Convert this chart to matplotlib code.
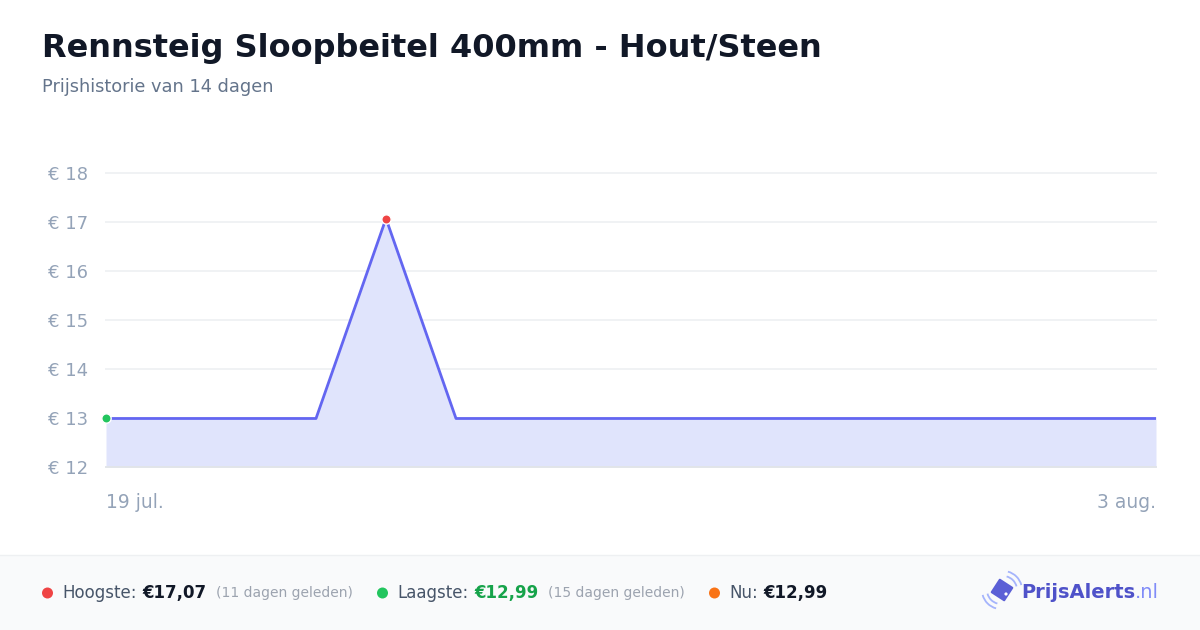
import matplotlib
matplotlib.use("Agg")
import matplotlib.pyplot as plt
from matplotlib.patches import Rectangle, RegularPolygon, Arc, Circle
import numpy as np
import pandas as pd

plt.rcParams['font.family'] = ['DejaVu Sans']

# data
title = "Rennsteig Sloopbeitel 400mm - Hout/Steen"
subtitle = "Prijshistorie van 14 dagen"
dates = ['2025-07-19', '2025-07-20', '2025-07-21', '2025-07-22', '2025-07-23',
         '2025-07-24', '2025-07-25', '2025-07-26', '2025-07-27', '2025-07-28',
         '2025-07-29', '2025-07-30', '2025-07-31', '2025-08-01', '2025-08-02',
         '2025-08-03']
prices = [12.99, 12.99, 12.99, 12.99, 17.07, 12.99, 12.99, 12.99, 12.99, 12.99,
          12.99, 12.99, 12.99, 12.99, 12.99, 12.99]
y_ticks = [12, 13, 14, 15, 16, 17, 18]
x_labels = ["19 jul.", "3 aug."]
stats = [
    ("Hoogste:", "€17,07", "(11 dagen geleden)", "#ef4444", "#111827"),
    ("Laagste:", "€12,99", "(15 dagen geleden)", "#22c55e", "#16a34a"),
    ("Nu:", "€12,99", None, "#f97316", "#111827"),
]

x = pd.to_datetime(dates)

W, H = 1200, 630
fig = plt.figure(figsize=(W / 100, H / 100), dpi=100)
fig.patch.set_facecolor("white")

# header
fig.text(42 / W, 1 - 48 / H, title, fontsize=23, fontweight="bold",
         color="#111827", va="center", ha="left")
fig.text(42 / W, 1 - 87 / H, subtitle, fontsize=12.8, color="#64748b",
         va="center", ha="left")

# chart
ax = fig.add_axes([106 / W, 1 - 467 / H, 1050 / W, (467 - 173) / H])
ax.set_facecolor("white")
ax.fill_between(x, prices, 12, color="#e0e4fc", lw=0, zorder=1)
ax.plot(x, prices, color="#6366f1", lw=2, zorder=3)
imax = prices.index(max(prices))
imin = prices.index(min(prices))
ax.scatter([x[imin]], [prices[imin]], s=45, color="#22c55e",
           edgecolor="white", linewidth=1, zorder=5, clip_on=False)
ax.scatter([x[imax]], [prices[imax]], s=45, color="#ef4444",
           edgecolor="white", linewidth=1, zorder=5, clip_on=False)
ax.set_xlim(x[0], x[-1])
ax.set_ylim(y_ticks[0], y_ticks[-1])
ax.set_yticks(y_ticks)
ax.set_yticklabels([f"€ {v}" for v in y_ticks])
for v in y_ticks:
    ax.axhline(v, color="#e2e5e9" if v == y_ticks[0] else "#f0f2f4",
               lw=1.4, zorder=2 if v == y_ticks[0] else 0, clip_on=False)
for s in ax.spines.values():
    s.set_visible(False)
ax.tick_params(axis="y", length=0, pad=13, labelsize=13, labelcolor="#94a3b8")
ax.set_xticks([])

ax.text(x[0], -0.12, x_labels[0], transform=ax.get_xaxis_transform(),
        ha="left", va="center", fontsize=13.5, color="#94a3b8")
ax.text(x[-1], -0.12, x_labels[1], transform=ax.get_xaxis_transform(),
        ha="right", va="center", fontsize=13.5, color="#94a3b8")

# footer
fig.patches.append(Rectangle((0, 0), 1, 1 - 555 / H, transform=fig.transFigure,
                             facecolor="#f9fafb", edgecolor="none", zorder=0))
fig.lines.append(plt.Line2D([0, 1], [1 - 555 / H] * 2, transform=fig.transFigure,
                            color="#eef0f2", lw=1))

renderer = fig.canvas.get_renderer()
fy = 1 - 593 / H
starts = [42, 377, 709]
for (label, val, note, dot, vcol), sx in zip(stats, starts):
    fig.patches.append(Circle((sx + 5.5, H - 593), 5.5, transform=None,
                              facecolor=dot, edgecolor="none", zorder=3))
    xp = sx + 20
    t = fig.text(xp / W, fy, label, fontsize=12, color="#475569",
                 va="center", ha="left")
    xp = t.get_window_extent(renderer).x1 + 6
    t = fig.text(xp / W, fy, val, fontsize=12, color=vcol, fontweight="bold",
                 va="center", ha="left")
    if note:
        xp = t.get_window_extent(renderer).x1 + 9
        fig.text(xp / W, fy, note, fontsize=10, color="#9ca3af",
                 va="center", ha="left")

# logo
t = fig.text(1159 / W, fy, ".nl", fontsize=14, color="#818cf8",
             va="center", ha="right")
x0 = t.get_window_extent(renderer).x0
fig.text(x0 / W, fy, "PrijsAlerts", fontsize=14, color="#4f52c9",
         fontweight="bold", va="center", ha="right")
cx, cy = 1002, H - 590
fig.patches.append(RegularPolygon((cx, cy), 4, radius=10.5,
                                  orientation=np.deg2rad(12), transform=None,
                                  facecolor="#5b5fd6", edgecolor="#5b5fd6",
                                  lw=1.5, joinstyle="round"))
fig.patches.append(Circle((cx + 4, cy - 4), 1.6, transform=None,
                          facecolor="white", edgecolor="none"))
for r in (14, 19):
    fig.patches.append(Arc((cx + 1, cy), 2 * r, 2 * r, theta1=15, theta2=75,
                           transform=None, color="#a5b4fc", lw=1.3))
    fig.patches.append(Arc((cx - 1, cy), 2 * r, 2 * r, theta1=195, theta2=255,
                           transform=None, color="#a5b4fc", lw=1.3))

fig.savefig("out.png", dpi=100, facecolor="white")
